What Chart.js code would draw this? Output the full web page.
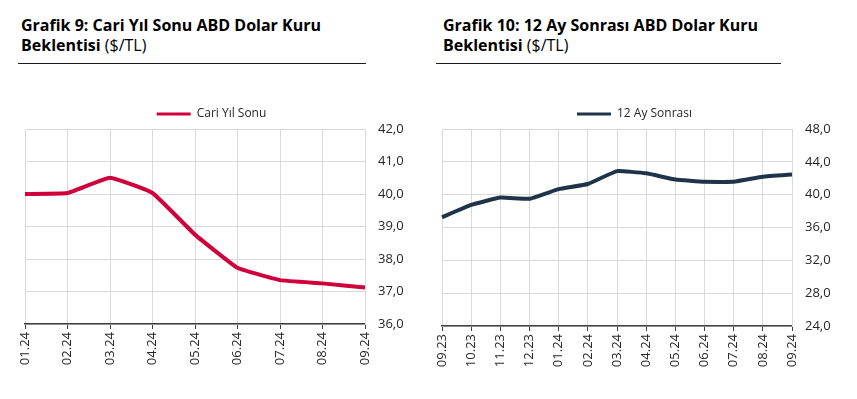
<!DOCTYPE html>
<html>
<head>
<meta charset="utf-8">
<script src="https://cdn.jsdelivr.net/npm/chart.js@4"></script>
<style>
  body{margin:0;background:#fff;width:857px;height:399px;overflow:hidden;position:relative;font-family:"Open Sans",sans-serif;}
  .title{position:absolute;top:15px;font-size:16px;line-height:20px;font-weight:700;color:#000;white-space:nowrap;}
  .title span{font-weight:400;}
  .rule{position:absolute;top:63px;height:0;border-top:1px solid #1a1a1a;}
  .box{position:absolute;top:95px;height:304px;}
</style>
</head>
<body>

<div class="title" style="left:21px;">Grafik 9: Cari Yıl Sonu ABD Dolar Kuru<br>Beklentisi <span>($/TL)</span></div>
<div class="rule" style="left:18px;width:348px;"></div>
<div class="box" style="left:0;width:430px;"><canvas id="chart1"></canvas></div>

<div class="title" style="left:443px;">Grafik 10: 12 Ay Sonrası ABD Dolar Kuru<br>Beklentisi <span>($/TL)</span></div>
<div class="rule" style="left:436px;width:345px;"></div>
<div class="box" style="left:430px;width:427px;"><canvas id="chart2"></canvas></div>

<script>
//data - chart 9
const months1=['01.24','02.24','03.24','04.24','05.24','06.24','07.24','08.24','09.24'];
const cariYilSonu=[40.0,40.03,40.5,40.03,38.75,37.73,37.35,37.25,37.12];

//data - chart 10
const months2=['09.23','10.23','11.23','12.23','01.24','02.24','03.24','04.24','05.24','06.24','07.24','08.24','09.24'];
const onIkiAySonrasi=[37.25,38.75,39.65,39.5,40.67,41.3,42.87,42.6,41.85,41.57,41.57,42.18,42.46];

//y axis ranges
const yRange1={min:36,max:42,step:1};
const yRange2={min:24,max:48,step:4};

const gridColor='#d9d9d9';
const axisColor='#404040';
const textColor='#262626';

//fixes legend height and moves it a bit left, like the original
function legendFix(h,dx){
    return {
        id:'legendFix',
        beforeInit(chart){
            const fit=chart.legend.fit;
            chart.legend.fit=function(){
                fit.bind(chart.legend)();
                this.height=h;
            };
        },
        afterLayout(chart){
            chart.legend.left+=dx;
            chart.legend.right+=dx;
        }
    };
}

//legend swatch: thin filled bar, no stroke
function thinLabels(chart){
    const items=Chart.defaults.plugins.legend.labels.generateLabels(chart);
    items.forEach(i=>{i.lineWidth=0;});
    return items;
}

function makeChart(id,labels,values,name,color,range,padLeft,xH,dx){
    return new Chart(document.getElementById(id),{
        type:'line',
        data:{
            labels:labels,
            datasets:[{
                label:name,
                data:values,
                borderColor:color,
                backgroundColor:color,
                borderWidth:4,
                pointRadius:0,
                tension:0.1
            }]
        },
        options:{
            responsive:true,
            maintainAspectRatio:false,
            animation:false,
            layout:{padding:{left:padLeft,right:0,top:0,bottom:0}},
            plugins:{
                legend:{
                    display:true,
                    position:'top',
                    labels:{
                        boxWidth:34,
                        boxHeight:3,
                        padding:13,
                        color:textColor,
                        font:{family:'"Open Sans"',size:12},
                        generateLabels:thinLabels
                    }
                },
                tooltip:{enabled:false}
            },
            scales:{
                x:{
                    grid:{color:gridColor,tickColor:axisColor,tickLength:5,lineWidth:1},
                    border:{color:axisColor,width:1.5},
                    ticks:{
                        color:textColor,
                        autoSkip:false,
                        minRotation:90,
                        maxRotation:90,
                        padding:3,
                        font:{family:'"Open Sans"',size:13}
                    },
                    afterFit(axis){axis.height=xH;}
                },
                y:{
                    position:'right',
                    min:range.min,
                    max:range.max,
                    grid:{color:gridColor,drawTicks:false},
                    border:{color:gridColor},
                    ticks:{
                        stepSize:range.step,
                        color:textColor,
                        padding:13,
                        font:{family:'"Open Sans"',size:13},
                        callback:(v)=>v.toFixed(1).replace('.',',')
                    },
                    afterFit(axis){axis.width=65;}
                }
            }
        },
        plugins:[legendFix(34,dx)]
    });
}

makeChart('chart1',months1,cariYilSonu,'Cari Yıl Sonu','#d0003c',yRange1,25,75,-16);
makeChart('chart2',months2,onIkiAySonrasi,'12 Ay Sonrası','#1f3349',yRange2,12,73,-15);
</script>
</body>
</html>
